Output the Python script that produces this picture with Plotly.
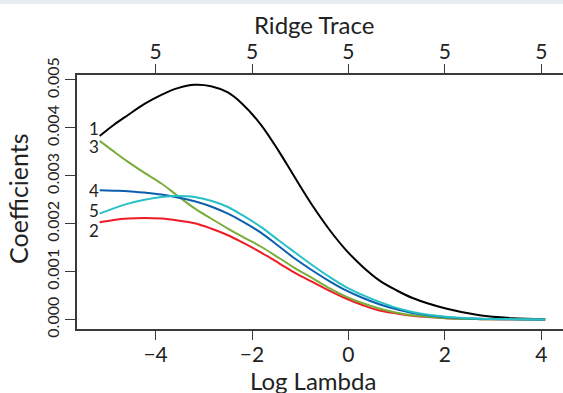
import plotly.graph_objects as go

# ---- data ----
log_lambda = [-5.16, -4.87, -4.57, -4.23, -3.88, -3.54, -3.19, -2.85, -2.50, -2.20,
              -1.81, -1.43, -1.12, -0.74, -0.39, -0.05, 0.30, 0.64, 0.98, 1.33,
              2.02, 2.72, 3.40, 4.08]
coef1 = [3.83, 4.06, 4.27, 4.50, 4.69, 4.83, 4.90, 4.87, 4.74, 4.50,
         4.06, 3.49, 2.98, 2.37, 1.87, 1.45, 1.10, 0.82, 0.62, 0.45,
         0.23, 0.09, 0.03, 0.01]
coef2 = [2.03, 2.08, 2.11, 2.12, 2.11, 2.07, 2.01, 1.90, 1.76, 1.61,
         1.40, 1.17, 0.98, 0.78, 0.60, 0.44, 0.30, 0.19, 0.13, 0.08,
         0.03, 0.01, 0.005, 0.0]
coef3 = [3.73, 3.51, 3.29, 3.06, 2.84, 2.58, 2.32, 2.11, 1.90, 1.73,
         1.52, 1.28, 1.08, 0.86, 0.65, 0.48, 0.34, 0.23, 0.15, 0.09,
         0.03, 0.01, 0.005, 0.0]
coef4 = [2.70, 2.69, 2.68, 2.65, 2.61, 2.55, 2.47, 2.36, 2.21, 2.05,
         1.81, 1.52, 1.28, 1.02, 0.80, 0.61, 0.45, 0.32, 0.22, 0.14,
         0.05, 0.02, 0.005, 0.0]
coef5 = [2.21, 2.32, 2.42, 2.50, 2.56, 2.58, 2.56, 2.48, 2.35, 2.18,
         1.93, 1.64, 1.41, 1.13, 0.89, 0.68, 0.51, 0.37, 0.25, 0.16,
         0.06, 0.02, 0.01, 0.0]
series_names = ["1", "2", "3", "4", "5"]
series_values = [coef1, coef2, coef3, coef4, coef5]
series_colors = ["#000000", "#ee1c25", "#79ad3a", "#0b5fad", "#27c1c5"]
label_y = [3.99, 1.86, 3.62, 2.70, 2.27]   # line-label positions (x 1e-3)
label_x = -5.28
x_ticks = [-4, -2, 0, 2, 4]
x_tick_text = ["\u22124", "\u22122", "0", "2", "4"]
top_tick_text = ["5", "5", "5", "5", "5"]
y_ticks = [0.000, 0.001, 0.002, 0.003, 0.004, 0.005]
y_tick_text = ["0.000", "0.001", "0.002", "0.003", "0.004", "0.005"]

W, H = 563, 393
L, R, T, B = 77, 0, 75, 64
PW, PH = W - L - R, H - T - B
FONT = "Lato"
AX = "#3a3a3a"
TXT = "#222222"

fig = go.Figure()
for name, vals, col in zip(series_names, series_values, series_colors):
    fig.add_trace(go.Scatter(x=log_lambda, y=[v / 1000 for v in vals],
                             mode="lines",
                             line=dict(color=col, width=2, shape="spline", smoothing=1.0),
                             name=name, showlegend=False, hoverinfo="skip"))

# invisible trace for top axis
fig.add_trace(go.Scatter(x=[x_ticks[0]], y=[0], xaxis="x2", mode="markers",
                         marker=dict(opacity=0), showlegend=False, hoverinfo="skip"))

for name, ly in zip(series_names, label_y):
    fig.add_annotation(x=label_x, y=ly / 1000, text=name, showarrow=False,
                       xanchor="center", yanchor="middle",
                       font=dict(family=FONT, size=17, color=TXT))


def px_x(p):
    return (p - L) / PW


def px_y(p):
    return (H - B - p) / PH


fig.add_annotation(xref="paper", yref="paper", x=px_x(314), y=px_y(25), text="Ridge Trace",
                   showarrow=False, xanchor="center", yanchor="middle",
                   font=dict(family=FONT, size=24, color=TXT))
fig.add_annotation(xref="paper", yref="paper", x=px_x(313), y=px_y(380), text="Log Lambda",
                   showarrow=False, xanchor="center", yanchor="middle",
                   font=dict(family=FONT, size=24, color=TXT))
fig.add_annotation(xref="paper", yref="paper", x=px_x(18), y=px_y(199), text="Coefficients",
                   showarrow=False, xanchor="center", yanchor="middle", textangle=-90,
                   font=dict(family=FONT, size=25, color=TXT))

fig.add_shape(type="rect", xref="paper", yref="paper", x0=px_x(0), x1=px_x(W),
              y0=px_y(4), y1=px_y(0), fillcolor="#e8edf1", line=dict(width=0), layer="below")

xr = [-5.63, 4.45]
fig.update_layout(
    width=W, height=H, margin=dict(l=L, r=R, t=T, b=B, autoexpand=False),
    paper_bgcolor="white", plot_bgcolor="white",
    xaxis=dict(range=xr, tickvals=x_ticks, ticktext=x_tick_text, ticks="outside",
               ticklen=9, tickwidth=1.3, tickcolor=AX, showline=True, linecolor=AX,
               linewidth=1.5, showgrid=False, zeroline=False, automargin=False,
               ticklabelstandoff=-3,
               tickfont=dict(family=FONT, size=21, color=TXT)),
    xaxis2=dict(range=xr, overlaying="x", side="top", tickvals=x_ticks,
                ticktext=top_tick_text, ticks="outside", ticklen=9, tickwidth=1.3,
                tickcolor=AX, showline=True, linecolor=AX, linewidth=1.5,
                showgrid=False, zeroline=False, automargin=False,
                ticklabelstandoff=-3,
                tickfont=dict(family=FONT, size=21, color=TXT)),
    yaxis=dict(range=[-0.000196, 0.005104], tickvals=y_ticks, ticktext=y_tick_text,
               ticks="outside", ticklen=10, tickwidth=1.3, tickcolor=AX, showline=True,
               linecolor=AX, linewidth=1.5, showgrid=False, zeroline=False, tickangle=-90,
               automargin=False, tickfont=dict(family=FONT, size=16, color=TXT)),
)

fig.write_html("out.html", config={"displayModeBar": False},
               post_script="document.body.style.margin='0';document.body.style.overflow='hidden';")
